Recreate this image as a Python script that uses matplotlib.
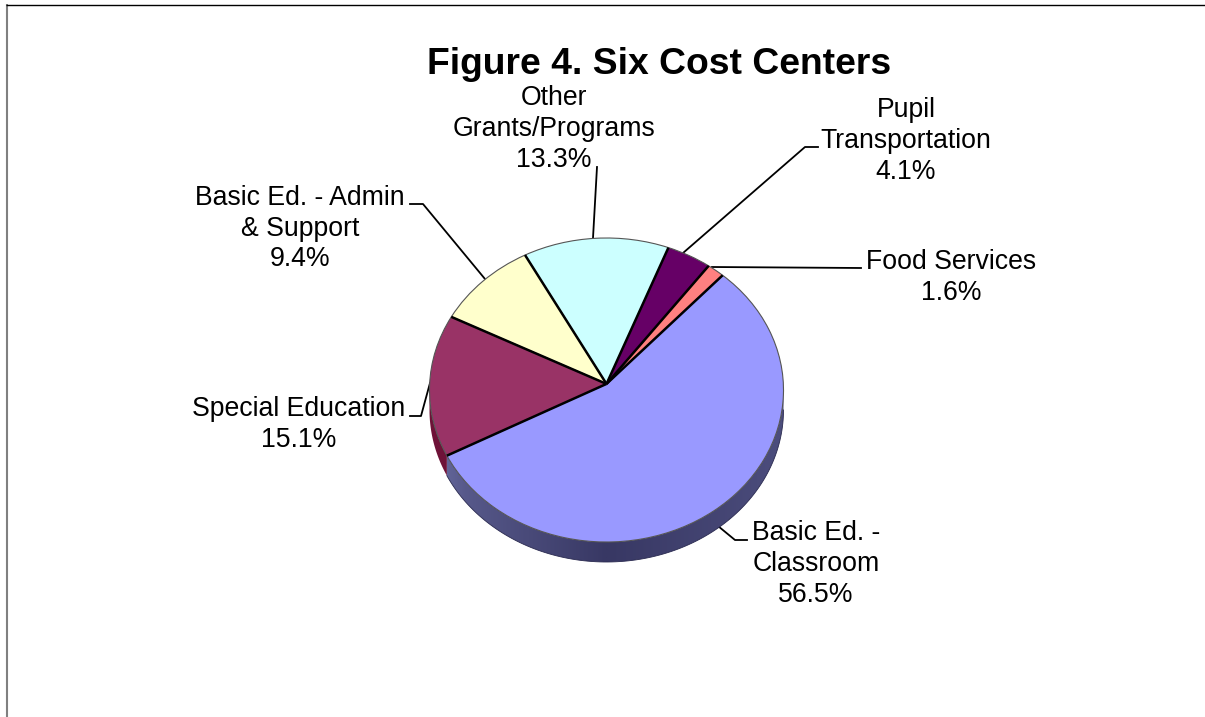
import matplotlib
matplotlib.use("Agg")
import matplotlib.pyplot as plt
import numpy as np
from matplotlib.patches import Polygon

plt.rcParams["font.family"] = ["Liberation Sans", "DejaVu Sans"]

# counter-clockwise from the food services slice
categories = ["Food Services", "Pupil\nTransportation", "Other\nGrants/Programs",
              "Basic Ed. - Admin\n& Support", "Special Education", "Basic Ed. -\nClassroom"]
shares = [1.6, 4.1, 13.3, 9.4, 15.1, 56.5]
colors = ["#ff8080", "#660066", "#ccffff", "#ffffcc", "#993366", "#9999ff"]

W, H = 1205, 717
fig = plt.figure(figsize=(W / 100, H / 100), dpi=100)

# full page axes in pixels, for border, title, labels and leaders
page = fig.add_axes([0, 0, 1, 1])
page.set_xlim(0, W)
page.set_ylim(H, 0)
page.axis("off")
page.plot([7, 7], [4, H], color="#808080", lw=1.5, solid_capstyle="butt")
page.plot([6, W], [4.5, 4.5], color="black", lw=1.0, solid_capstyle="butt")

page.text(659, 64, "Figure 4. Six Cost Centers", fontsize=26.8, fontweight="bold",
          ha="center", va="center")

label_pos = [(951, 277.5), (906, 141), (554, 129), (300, 228.5), (299, 424.5), (816, 564)]
for name, share, (lx, ly) in zip(categories, shares, label_pos):
    page.text(lx, ly, f"{name}\n{share:.1f}%", fontsize=19.2, ha="center", va="center",
              linespacing=1.24)

leaders = [
    [(861, 268), (712, 267)],
    [(818, 147), (805, 147), (683, 253)],
    [(597, 167), (593, 238)],
    [(410, 204), (423, 204), (485, 279)],
    [(410, 416), (421, 416), (430, 383)],
    [(747, 540), (735, 540), (718, 526)],
]
for pts in leaders:
    xs, ys = zip(*pts)
    page.plot(xs, ys, color="black", lw=1.3)

# elliptical pie: separate x and y pixel scale per unit radius
cx, cy, rx, ry = 606.5, 390, 177, 152
ax = fig.add_axes([(cx - 1.25 * rx) / W, 1 - (cy + 1.25 * ry) / H,
                   2.5 * rx / W, 2.5 * ry / H])
wedges, _ = ax.pie(shares, colors=colors, startangle=49, counterclock=True,
                   wedgeprops={"edgecolor": "#555555", "linewidth": 0.8})
ax.set_aspect("auto")
ax.set_xlim(-1.25, 1.25)
ax.set_ylim(-1.25, 1.25)

# apex sits a little above the ellipse centre, tilted view
apex = np.array([0.0, 0.04])
for w in wedges:
    v = w.get_path().vertices
    v[np.hypot(v[:, 0], v[:, 1]) < 1e-6] = apex
    w.set_zorder(3)

# side wall of the disc
depth = 20 / ry


def band(t1, t2):
    t = np.radians(np.linspace(t1, t2, 120))
    top = np.column_stack([np.cos(t), np.sin(t)])
    bottom = top[::-1] - [0, depth]
    return np.vstack([top, bottom])


class_start = wedges[-1].theta1
side = Polygon(band(class_start, 360), closed=True, facecolor="none", edgecolor="none")
ax.add_patch(side)
grad = np.interp(np.linspace(0, 1, 300), [0, 0.1, 0.5, 0.85, 1], [0.75, 0.45, 0.0, 0.2, 0.3])
im = ax.imshow(grad[None, :], extent=(-1, 1, -1.2, 1), aspect="auto", zorder=2,
               cmap=matplotlib.colors.LinearSegmentedColormap.from_list("s", ["#383864", "#7c80b8"]),
               vmin=0, vmax=1)
im.set_clip_path(side)
ax.set_xlim(-1.25, 1.25)
ax.set_ylim(-1.25, 1.25)
ax.add_patch(Polygon(band(180, class_start), closed=True, facecolor="#6e1238",
                     edgecolor="none", zorder=2))
ax.plot(*band(class_start, 360)[120:].T, color="#2a2a50", lw=0.6, zorder=2.5)

# slice dividers, black and heavier than the rim
for w in wedges:
    t = np.radians(w.theta1)
    ax.plot([apex[0], np.cos(t)], [apex[1], np.sin(t)], color="black", lw=1.8,
            solid_capstyle="butt", zorder=4)

fig.savefig("out.png", dpi=100)
